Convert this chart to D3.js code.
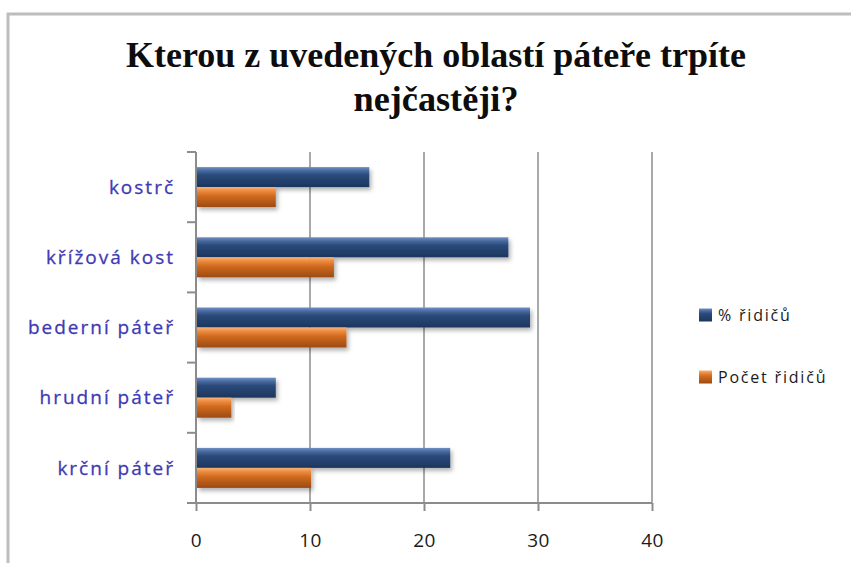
<!DOCTYPE html>
<meta charset="utf-8">
<style>
body {
  margin: 0;
  background: #fff;
}
svg {
  display: block;
}
.title {
  font-family: "Liberation Serif", serif;
  font-weight: bold;
  font-size: 36px;
  fill: #0d0d0d;
}
.cat {
  font-family: "Open Sans", sans-serif;
  font-size: 19px;
  letter-spacing: 2px;
  fill: #3f3ab3;
  stroke: #3f3ab3;
  stroke-width: 0.3px;
}
.axis text {
  font-family: "Open Sans", sans-serif;
  font-size: 19px;
  letter-spacing: 0.5px;
  fill: #1a1a1a;
}
.axis path, .axis line {
  stroke: #8c8c8c;
  stroke-width: 2px;
}
.grid line {
  stroke: #8c8c8c;
  stroke-width: 1.5px;
}
.legend text {
  font-family: "Open Sans", sans-serif;
  font-size: 16px;
  letter-spacing: 1.8px;
  fill: #1a1a1a;
}
</style>
<body>
<svg width="851" height="563"></svg>
<script src="https://d3js.org/d3.v7.min.js"></script>
<script>
// categories top to bottom
var categories = ["kostrč", "křížová kost", "bederní páteř", "hrudní páteř", "krční páteř"];
var seriesNames = ["% řidičů", "Počet řidičů"];
var percent = [15.2, 27.4, 29.3, 7.0, 22.3];
var count = [7.0, 12.1, 13.2, 3.1, 10.1];
var xTicks = [0, 10, 20, 30, 40];

var svg = d3.select("svg");

// chart frame (runs off the right and bottom)
svg.append("rect")
    .attr("x", 8).attr("y", 14)
    .attr("width", 900).attr("height", 600)
    .attr("fill", "none")
    .attr("stroke", "#bdbdbd")
    .attr("stroke-width", 3);

var defs = svg.append("defs");

function grad(id, stops) {
  var g = defs.append("linearGradient").attr("id", id)
      .attr("x1", 0).attr("y1", 0).attr("x2", 0).attr("y2", 1);
  stops.forEach(function(s) {
    g.append("stop").attr("offset", s[0]).attr("stop-color", s[1]);
  });
}
grad("gBlue", [[0, "#6f8fc4"], [0.18, "#4a6aa0"], [0.4, "#2a4a7a"], [1, "#1c365e"]]);
grad("gOrange", [[0, "#f7b276"], [0.18, "#ee8c40"], [0.45, "#cf6a1e"], [1, "#9c4a12"]]);

var shadow = defs.append("filter").attr("id", "shadow")
    .attr("x", "-5%").attr("y", "-20%").attr("width", "115%").attr("height", "160%");
shadow.append("feDropShadow")
    .attr("dx", 2).attr("dy", 3).attr("stdDeviation", 2)
    .attr("flood-color", "#000").attr("flood-opacity", 0.3);

// title
svg.append("text").attr("class", "title")
    .attr("x", 436).attr("y", 67)
    .attr("text-anchor", "middle")
    .attr("textLength", 620).attr("lengthAdjust", "spacingAndGlyphs")
    .text("Kterou z uvedených oblastí páteře trpíte");
svg.append("text").attr("class", "title")
    .attr("x", 436).attr("y", 111)
    .attr("text-anchor", "middle")
    .attr("textLength", 165).attr("lengthAdjust", "spacingAndGlyphs")
    .text("nejčastěji?");

var x = d3.scaleLinear().domain([0, 40]).range([196, 652]);

var y0 = d3.scaleBand()
    .domain(categories)
    .range([152, 503])
    .paddingInner(0.43)
    .paddingOuter(0.215);

var y1 = d3.scaleBand()
    .domain(seriesNames)
    .range([0, y0.bandwidth()]);

var colors = {"% řidičů": "url(#gBlue)", "Počet řidičů": "url(#gOrange)"};

// gridlines
svg.append("g").attr("class", "grid")
  .selectAll("line")
  .data(xTicks.slice(1))
  .enter().append("line")
    .attr("x1", function(d) { return x(d); })
    .attr("x2", function(d) { return x(d); })
    .attr("y1", 152).attr("y2", 503);

// x axis
svg.append("g")
    .attr("class", "axis")
    .attr("transform", "translate(0,503)")
    .call(d3.axisBottom(x).tickValues(xTicks).tickSizeInner(8).tickSizeOuter(0).tickPadding(23))
    .call(function(g) { g.select(".domain").attr("d", "M" + x(0) + ",0H" + x(40)); });

// y axis with ticks at category boundaries
var yAxis = svg.append("g").attr("class", "axis");
yAxis.append("line")
    .attr("x1", x(0)).attr("x2", x(0))
    .attr("y1", 152).attr("y2", 503);
yAxis.selectAll(".bound")
  .data(d3.range(categories.length + 1))
  .enter().append("line")
    .attr("class", "bound")
    .attr("x1", x(0) - 9).attr("x2", x(0))
    .attr("y1", function(i) { return y0.range()[0] + i * y0.step(); })
    .attr("y2", function(i) { return y0.range()[0] + i * y0.step(); });

// category labels
svg.append("g").selectAll("text")
  .data(categories)
  .enter().append("text")
    .attr("class", "cat")
    .attr("x", 175)
    .attr("y", function(d) { return y0(d) + y0.bandwidth() / 2; })
    .attr("dy", "0.35em")
    .attr("text-anchor", "end")
    .text(function(d) { return d; });

// bars
var rows = categories.map(function(c, i) {
  return {cat: c, values: [{name: seriesNames[0], v: percent[i]}, {name: seriesNames[1], v: count[i]}]};
});

svg.append("g").selectAll("g")
  .data(rows)
  .enter().append("g")
    .attr("transform", function(d) { return "translate(0," + y0(d.cat) + ")"; })
  .selectAll("rect")
  .data(function(d) { return d.values; })
  .enter().append("rect")
    .attr("x", x(0) + 1)
    .attr("y", function(d) { return y1(d.name); })
    .attr("width", function(d) { return x(d.v) - x(0) - 1; })
    .attr("height", y1.bandwidth())
    .attr("fill", function(d) { return colors[d.name]; })
    .attr("filter", "url(#shadow)");

// legend
var legend = svg.append("g").attr("class", "legend")
  .selectAll("g")
  .data(seriesNames)
  .enter().append("g")
    .attr("transform", function(d, i) { return "translate(699," + (315 + i * 62) + ")"; });

legend.append("rect")
    .attr("x", 0).attr("y", -6.5)
    .attr("width", 13).attr("height", 13)
    .attr("fill", function(d) { return colors[d]; });

legend.append("text")
    .attr("x", 19)
    .attr("dy", "0.35em")
    .text(function(d) { return d; });
</script>
</body>
